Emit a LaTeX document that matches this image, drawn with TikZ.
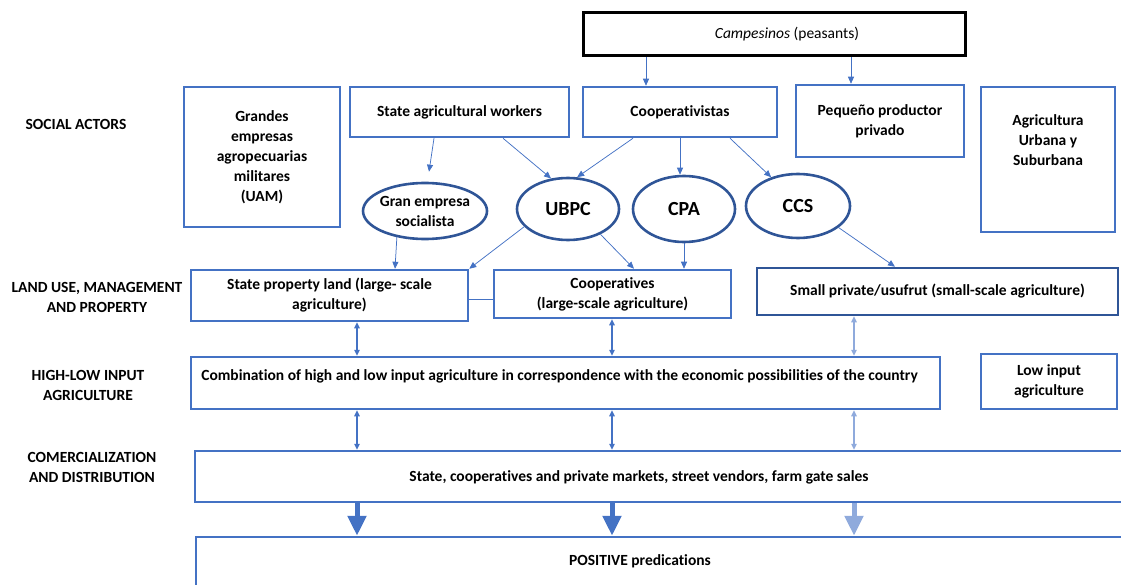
\documentclass[tikz,border=0pt]{standalone}
\usepackage{fontspec}
\setmainfont{Carlito}[Ligatures=NoCommon]
\usetikzlibrary{arrows.meta,shapes.geometric}

\definecolor{boxblue}{HTML}{4472C4}
\definecolor{navyblue}{HTML}{2F5597}
\definecolor{paleblue}{HTML}{8FAADC}

\tikzset{
  txt/.style={font=\bfseries\fontsize{15.5}{20}\selectfont, align=center, inner sep=0pt},
  bigtxt/.style={txt, font=\bfseries\fontsize{20}{22}\selectfont},
  box/.style={draw=boxblue, line width=2.5pt, minimum width=#1, inner sep=0pt, txt},
  oval/.style={ellipse, draw=navyblue, line width=2.6pt, inner sep=0pt},
  rowlabel/.style={txt},
  link/.style={draw=boxblue, line width=0.75pt, -{Triangle[length=7pt,width=6pt]}},
  tie/.style={draw=boxblue, line width=1.4pt},
  both/.style={draw=#1, line width=1.3pt, {Triangle[length=6pt,width=5.5pt]}-{Triangle[length=6pt,width=5.5pt]}},
  bigdown/.style={draw=#1, line width=5pt, -{Triangle[length=20pt,width=18pt]}},
}

\begin{document}
\begin{tikzpicture}[x=1pt,y=-1pt]
\useasboundingbox (0,0) rectangle (1121,585);
\clip (0,0) rectangle (1121,585);

% row labels
\node[rowlabel] (lblactors) at (76,124) {SOCIAL ACTORS};
\node[rowlabel] (lblland)   at (97,297) {LAND USE, MANAGEMENT\\AND PROPERTY};
\node[rowlabel] (lblinput)  at (88,385) {HIGH-LOW INPUT\\AGRICULTURE};
\node[rowlabel] (lblmarket) at (92,467) {COMERCIALIZATION\\AND DISTRIBUTION};

% social actors
\node[box=382pt, draw=black, line width=3pt, minimum height=43pt] (camp) at (774,34.5) {};
\node[txt, font=\fontsize{15.5}{20}\selectfont] (camptext) at (787,34)
  {\textit{Campesinos} (peasants)};
\node[box=156pt, minimum height=140pt] (uam) at (262,157)
  {Grandes\\empresas\\agropecuarias\\militares\\(UAM)};
\node[box=219pt, minimum height=50pt] (saw) at (459.5,112) {State agricultural workers};
\node[box=194pt, minimum height=50pt] (coop) at (680,112) {Cooperativistas};
\node[box=168pt, minimum height=72pt] (peq) at (880,121) {Pequeño productor\\privado};
\node[box=134pt, minimum height=145pt] (urb) at (1048,159.5) {};
\node[txt] (urbtext) at (1048,140) {Agricultura\\Urbana y\\Suburbana};

% organisational forms
\node[oval, minimum width=124pt, minimum height=56pt,
  label={[txt]center:Gran empresa\\socialista}] (gran) at (425,211) {};
\node[oval, minimum width=102pt, minimum height=62pt,
  label={[bigtxt]center:UBPC}] (ubpc) at (568,209) {};
\node[oval, minimum width=102pt, minimum height=66pt,
  label={[bigtxt]center:CPA}] (cpa) at (684,209) {};
\node[oval, minimum width=104pt, minimum height=64pt,
  label={[bigtxt]center:CCS}] (ccs) at (798,206) {};

% land use
\node[box=277pt, minimum height=51pt] (state) at (329.5,295.5) {State property land (large- scale\\agriculture)};
\node[box=237pt, minimum height=48pt] (coops) at (612.5,294) {Cooperatives\\(large-scale agriculture)};
\node[box=361pt, minimum height=47pt, draw=navyblue] (small) at (937.5,291.5) {Small private/usufrut (small-scale agriculture)};

% input level
\node[box=749pt, minimum height=52pt] (comb) at (565.5,383) {};
\node[txt] (combtext) at (559.5,376) {Combination of high and low input agriculture in correspondence with the economic possibilities of the country};
\node[box=136pt, minimum height=55pt] (low) at (1049,381.5) {Low input\\agriculture};

% markets and outcome
\node[box=945pt, minimum height=51pt] (dist) at (667.5,476.5) {};
\node[txt] (disttext) at (639,477) {State, cooperatives and private markets, street vendors, farm gate sales};
\node[box=945pt, minimum height=70pt] (pos) at (668.5,572) {};
\node[txt] (postext) at (640,561) {POSITIVE predications};

% columns of the vertical links
\coordinate (colA) at (357,0);
\coordinate (colB) at (612,0);
\coordinate (colC) at (854,0);

% campesinos to actors
\draw[link] ([xshift=-128pt]camp.south) -- ([xshift=-34pt]coop.north);
\draw[link] ([xshift=77pt]camp.south) -- ([xshift=-29pt]peq.north);

% actors to organisational forms
\draw[link] ([xshift=-25.5pt]saw.south) -- ([xshift=4pt,yshift=10pt]gran.north);
\draw[link] ([xshift=43.5pt]saw.south) -- (ubpc.119);
\draw[link] ([xshift=-47pt]coop.south) -- (ubpc.74);
\draw[link] (coop.south) -- (coop.south |- cpa.north);
\draw[link] ([xshift=50pt]coop.south) -- (ccs.133);

% organisational forms to land use
\draw[link] (gran.223) -- ([xshift=65.5pt]state.north);
\draw[link] (ubpc.202) -- (state.north east);
\draw[link] (ubpc.322) -- ([xshift=21.5pt]coops.north);
\draw[link] (cpa.south) -- (cpa.south |- coops.north);
\draw[link] (ccs.332) -- ([xshift=-42.5pt]small.north);
\draw[tie] ([yshift=-4pt]state.east) -- ([yshift=-4pt]state.east -| coops.west);

% land use <-> input level
\draw[both=boxblue] (state.south -| colA) -- (comb.north -| colA);
\draw[both=boxblue] (coops.south -| colB) -- (comb.north -| colB);
\draw[both=paleblue] (small.south -| colC) -- (comb.north -| colC);

% input level <-> markets
\draw[both=boxblue] (comb.south -| colA) -- (dist.north -| colA);
\draw[both=boxblue] (comb.south -| colB) -- (dist.north -| colB);
\draw[both=paleblue] (comb.south -| colC) -- (dist.north -| colC);

% markets to outcome
\draw[bigdown=boxblue] (dist.south -| colA) -- (pos.north -| colA);
\draw[bigdown=boxblue] (dist.south -| colB) -- (pos.north -| colB);
\draw[bigdown=paleblue] (dist.south -| colC) -- (pos.north -| colC);
\end{tikzpicture}
\end{document}
